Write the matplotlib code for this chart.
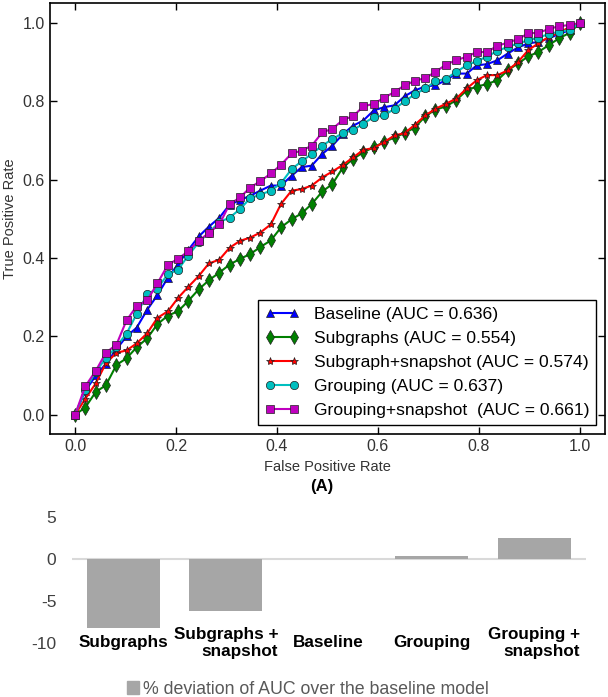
import matplotlib
matplotlib.use('Agg')
import matplotlib.pyplot as plt
from matplotlib.patches import Patch

plt.rcParams['font.family'] = ['Liberation Sans', 'DejaVu Sans']

# ---------------- data ----------------
fpr = [0.000, 0.020, 0.041, 0.061, 0.082, 0.102, 0.122, 0.143, 0.163, 0.184,
       0.204, 0.224, 0.245, 0.265, 0.286, 0.306, 0.327, 0.347, 0.367, 0.388,
       0.408, 0.429, 0.449, 0.469, 0.490, 0.510, 0.531, 0.551, 0.571, 0.592,
       0.612, 0.633, 0.653, 0.673, 0.694, 0.714, 0.735, 0.755, 0.776, 0.796,
       0.816, 0.837, 0.857, 0.878, 0.898, 0.918, 0.939, 0.959, 0.980, 1.000]

tpr_baseline = [0.0, 0.06, 0.10, 0.13, 0.167, 0.20, 0.222, 0.268, 0.305, 0.35,
                0.384, 0.42, 0.455, 0.48, 0.503, 0.536, 0.548, 0.559, 0.572, 0.585,
                0.585, 0.610, 0.632, 0.636, 0.666, 0.687, 0.717, 0.738, 0.751, 0.777,
                0.785, 0.790, 0.813, 0.828, 0.838, 0.841, 0.854, 0.871, 0.871, 0.892,
                0.895, 0.905, 0.922, 0.938, 0.948, 0.952, 0.961, 0.972, 0.982, 1.0]

tpr_subgraphs = [0.0, 0.018, 0.058, 0.075, 0.127, 0.144, 0.172, 0.195, 0.231, 0.253,
                 0.264, 0.29, 0.32, 0.343, 0.363, 0.383, 0.398, 0.41, 0.428, 0.445,
                 0.478, 0.499, 0.514, 0.538, 0.570, 0.589, 0.632, 0.653, 0.670, 0.683,
                 0.696, 0.708, 0.719, 0.733, 0.762, 0.779, 0.787, 0.803, 0.828, 0.838,
                 0.844, 0.854, 0.879, 0.897, 0.915, 0.926, 0.944, 0.961, 0.975, 1.0]

tpr_subgraph_snapshot = [0.0, 0.04, 0.08, 0.131, 0.158, 0.164, 0.182, 0.208, 0.247, 0.264,
                         0.298, 0.326, 0.354, 0.386, 0.396, 0.426, 0.444, 0.452, 0.465, 0.486,
                         0.538, 0.572, 0.576, 0.585, 0.606, 0.621, 0.638, 0.657, 0.676, 0.681,
                         0.696, 0.713, 0.719, 0.740, 0.764, 0.781, 0.794, 0.807, 0.833, 0.854,
                         0.867, 0.867, 0.879, 0.901, 0.931, 0.948, 0.965, 0.975, 0.99, 1.0]

tpr_grouping = [0.0, 0.063, 0.11, 0.144, 0.174, 0.207, 0.257, 0.307, 0.322, 0.359,
                0.370, 0.406, 0.44, 0.465, 0.492, 0.503, 0.525, 0.553, 0.562, 0.572,
                0.591, 0.627, 0.647, 0.666, 0.687, 0.704, 0.719, 0.727, 0.743, 0.760,
                0.764, 0.781, 0.80, 0.818, 0.833, 0.851, 0.858, 0.875, 0.892, 0.903,
                0.914, 0.929, 0.939, 0.948, 0.956, 0.963, 0.972, 0.978, 0.982, 1.0]

tpr_grouping_snapshot = [0.0, 0.072, 0.112, 0.158, 0.179, 0.241, 0.277, 0.292, 0.335, 0.383,
                         0.398, 0.417, 0.444, 0.464, 0.486, 0.537, 0.555, 0.580, 0.596, 0.616,
                         0.638, 0.667, 0.674, 0.687, 0.721, 0.730, 0.753, 0.762, 0.787, 0.794,
                         0.809, 0.824, 0.841, 0.852, 0.860, 0.875, 0.894, 0.905, 0.914, 0.926,
                         0.926, 0.942, 0.950, 0.959, 0.974, 0.975, 0.985, 0.992, 0.995, 1.0]

roc_labels = ['Baseline (AUC = 0.636)',
              'Subgraphs (AUC = 0.554)',
              'Subgraph+snapshot (AUC = 0.574)',
              'Grouping (AUC = 0.637)',
              'Grouping+snapshot  (AUC = 0.661)']
roc_ticks = [0.0, 0.2, 0.4, 0.6, 0.8, 1.0]

bar_categories = ['Subgraphs', 'Subgraphs +\nsnapshot', 'Baseline', 'Grouping', 'Grouping +\nsnapshot']
bar_values = [-8.2, -6.2, 0.0, 0.3, 2.5]
bar_yticks = [-10, -5, 0, 5]
bar_legend = '% deviation of AUC over the baseline model'

# ---------------- figure ----------------
fig = plt.figure(figsize=(6.08, 6.97), dpi=100)

ax = fig.add_axes([0.082, 0.377, 0.913, 0.618])
series = [tpr_baseline, tpr_subgraphs, tpr_subgraph_snapshot, tpr_grouping, tpr_grouping_snapshot]
colors = ['#0000ff', '#008000', '#ff0000', '#00bfbf', '#bf00bf']
markers = ['^', 'd', '*', 'o', 's']
msizes = [6, 7, 6, 6, 6]
for ys, c, m, ms, lab in zip(series, colors, markers, msizes, roc_labels):
    ax.plot(fpr, ys, color=c, marker=m, markersize=ms, lw=1.5,
            markeredgecolor='#202020', markeredgewidth=0.5, label=lab)

ax.set_xlim(-0.05, 1.05)
ax.set_ylim(-0.05, 1.05)
ax.set_xticks(roc_ticks)
ax.set_yticks(roc_ticks)
ax.tick_params(direction='in', top=True, right=True, length=5, width=1,
               labelsize=11.5, labelcolor='#333333')
for sp in ax.spines.values():
    sp.set_linewidth(1.2)
ax.set_xlabel('False Positive Rate', fontsize=10.5, color='#333333')
ax.set_ylabel('True Positive Rate', fontsize=10.5, color='#333333')
leg = ax.legend(loc='lower right', numpoints=2, fontsize=12.6, fancybox=False,
                edgecolor='black', framealpha=1, borderaxespad=0.5)
leg.get_frame().set_linewidth(1.0)

fig.text(322 / 608, 1 - 487 / 697, '(A)', ha='center', va='center',
         fontsize=12, fontweight='bold')

# ---------------- bar chart ----------------
ax2 = fig.add_axes([0.118, 0.0775, 0.845, 0.181])
xs = list(range(len(bar_categories)))
ax2.axhline(0, color='#d9d9d9', lw=1.5, zorder=1)
ax2.bar(xs, bar_values, width=0.71, color='#a6a6a6', zorder=2)
ax2.set_xlim(-0.5, 4.5)
ax2.set_ylim(-10, 5)
for sp in ax2.spines.values():
    sp.set_visible(False)
ax2.set_xticks([])
ax2.set_yticks(bar_yticks)
ax2.set_yticklabels([str(v) for v in bar_yticks])
ax2.tick_params(axis='y', length=0, pad=11, labelsize=12.5, labelcolor='#404040')
for x, cat in zip(xs, bar_categories):
    ax2.text(x, -10, cat, ha='center', va='center', fontsize=12.3,
             fontweight='bold', multialignment='right', color='black')

fig.legend(handles=[Patch(color='#a6a6a6')], labels=[bar_legend], loc='center',
           bbox_to_anchor=(0.506, 1 - 689 / 697), frameon=False, fontsize=12.8,
           handlelength=0.7, handleheight=0.7, handletextpad=0.2,
           labelcolor='#595959')

fig.savefig('out.png', dpi=100)
